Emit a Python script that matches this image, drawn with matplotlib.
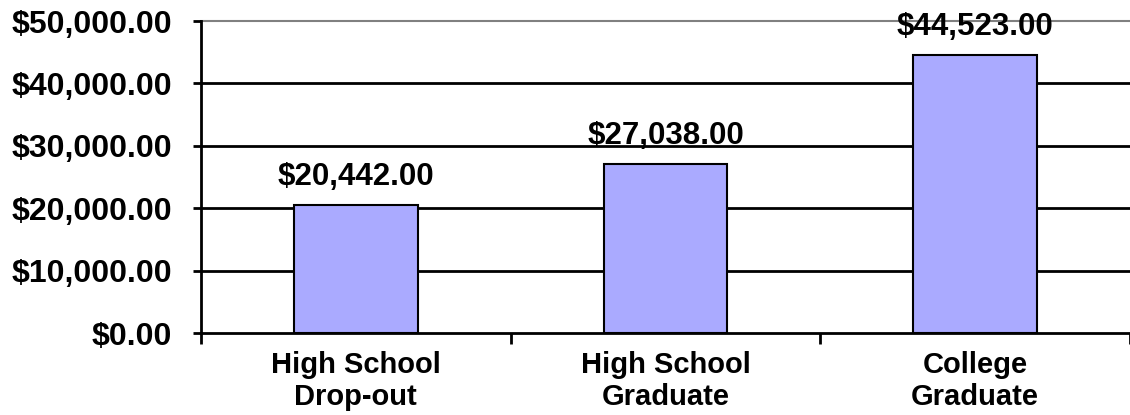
import numpy as np
import matplotlib
matplotlib.use('Agg')
import matplotlib.pyplot as plt

categories = ['High School\nDrop-out', 'High School\nGraduate', 'College\nGraduate']
incomes = [20442, 27038, 44523]
yticks = [0, 10000, 20000, 30000, 40000, 50000]

plt.rcParams['font.family'] = ['Liberation Sans', 'DejaVu Sans']
plt.rcParams['font.weight'] = 'bold'

fig = plt.figure(figsize=(11.3, 4.15), dpi=100)
ax = fig.add_axes([201/1130, 1-333/415, 1-201/1130, (333-21)/415])

x = np.arange(len(categories))
bars = ax.bar(x, incomes, width=0.4, color='#aaaaff', edgecolor='black', linewidth=1.5, zorder=3)

for xi, v in zip(x, incomes):
    ax.annotate('${:,.2f}'.format(v), (xi, v), xytext=(0, 14.5), textcoords='offset points',
                ha='center', va='baseline', fontsize=22.5, fontweight='bold', zorder=5)

ax.set_ylim(0, 50000)
ax.set_xlim(-0.5, 2.5 - 7/312)
ax.set_yticks(yticks)
ax.set_yticklabels(['${:,.2f}'.format(t) for t in yticks], fontsize=23, fontweight='bold')
ax.tick_params(axis='y', length=6, width=2, pad=15, direction='out')

# category ticks go between the groups, labels under the bars
ax.set_xticks([-0.5, 0.5, 1.5, 2.5])
ax.set_xticklabels([])
ax.set_xticks(x, minor=True)
ax.set_xticklabels(categories, minor=True, fontsize=21, fontweight='bold')
ax.tick_params(axis='x', which='major', length=8, width=2, direction='out')
ax.tick_params(axis='x', which='minor', length=0, pad=13)

for y in yticks[1:-1]:
    ax.axhline(y, color='black', linewidth=2, zorder=1)
ax.axhline(50000, color='#808080', linewidth=1.5, zorder=1, clip_on=False)

for s in ['top', 'right']:
    ax.spines[s].set_visible(False)
ax.spines['left'].set_linewidth(2)
ax.spines['bottom'].set_linewidth(2)

fig.savefig('out.png', dpi=100)
